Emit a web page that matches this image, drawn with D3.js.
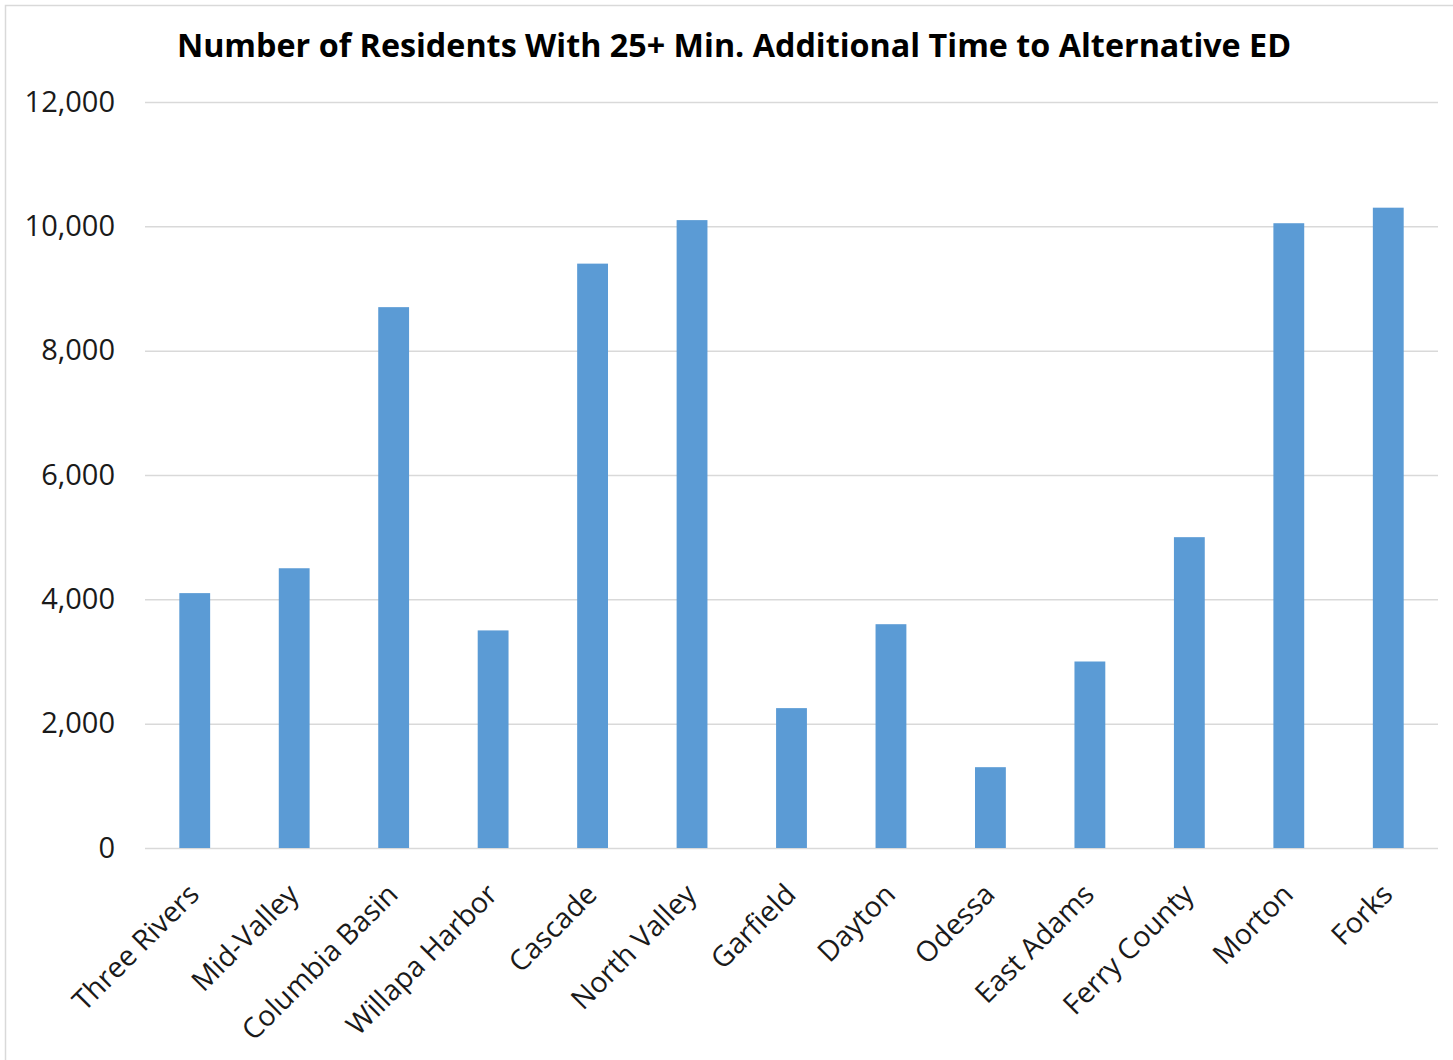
<!DOCTYPE html>
<html>
<head>
<meta charset="utf-8">
<script src="https://cdn.jsdelivr.net/npm/d3@7"></script>
<style>
  html, body { margin: 0; padding: 0; background: #fff; }
  svg { display: block; font-family: "Open Sans", sans-serif; }
</style>
</head>
<body>
<div id="chart"></div>
<script>
// Data
const categories = ['Three Rivers', 'Mid-Valley', 'Columbia Basin', 'Willapa Harbor', 'Cascade',
  'North Valley', 'Garfield', 'Dayton', 'Odessa', 'East Adams', 'Ferry County', 'Morton', 'Forks'];
const residents = [4100, 4500, 8700, 3500, 9400, 10100, 2250, 3600, 1300, 3000, 5000, 10050, 10300];
const yTicks = [0, 2000, 4000, 6000, 8000, 10000, 12000];
const title = 'Number of Residents With 25+ Min. Additional Time to Alternative ED';

const W = 1453, H = 1060;
const margin = { top: 102, right: 15, bottom: 212, left: 145 };
const width = W - margin.left - margin.right;
const height = H - margin.top - margin.bottom;

const root = d3.select('#chart').append('svg')
  .attr('width', W)
  .attr('height', H);

// outer frame
root.append('rect')
  .attr('x', 5.5).attr('y', 5.5)
  .attr('width', W + 20).attr('height', H + 20)
  .attr('fill', 'none')
  .attr('stroke', '#d9d9d9')
  .attr('stroke-width', 1.5);

root.append('text')
  .attr('x', 734).attr('y', 57)
  .attr('text-anchor', 'middle')
  .style('font-size', '32.3px')
  .style('font-weight', 700)
  .style('fill', '#000')
  .text(title);

const svg = root.append('g')
  .attr('transform', `translate(${margin.left},${margin.top})`);

const x = d3.scaleBand()
  .domain(categories)
  .range([0, width])
  .padding(0);

const y = d3.scaleLinear().domain([0, 12000]).range([height, 0]);

// Grid
svg.append('g')
  .call(d3.axisLeft(y).tickValues(yTicks).tickSize(0).tickPadding(30).tickFormat(d3.format(',')))
  .call(g => g.select('.domain').remove())
  .call(g => g.selectAll('.tick line').clone()
    .attr('x2', width)
    .attr('stroke', '#d9d9d9')
    .attr('stroke-width', 1.5))
  .call(g => g.selectAll('text')
    .style('font-size', '29px')
    .style('font-family', '"Open Sans", sans-serif')
    .attr('fill', '#1a1a1a'));

// Bars
const barW = x.bandwidth() * 0.31;
svg.selectAll('.bar')
  .data(categories)
  .enter()
  .append('rect')
  .attr('class', 'bar')
  .attr('x', (d) => x(d) + x.bandwidth() / 2 - barW / 2)
  .attr('y', (d, i) => y(residents[i]))
  .attr('width', barW)
  .attr('height', (d, i) => height - y(residents[i]))
  .attr('fill', '#5b9bd5');

// X axis labels
svg.append('g')
  .attr('transform', `translate(0,${height})`)
  .call(d3.axisBottom(x).tickSize(0).tickPadding(0))
  .call(g => g.select('.domain').remove())
  .selectAll('text')
  .attr('transform', 'translate(-1,41) rotate(-45)')
  .attr('text-anchor', 'end')
  .attr('dy', '0.35em')
  .style('font-size', '28.5px')
  .style('font-family', '"Open Sans", sans-serif')
  .attr('fill', '#1a1a1a');
</script>
</body>
</html>
